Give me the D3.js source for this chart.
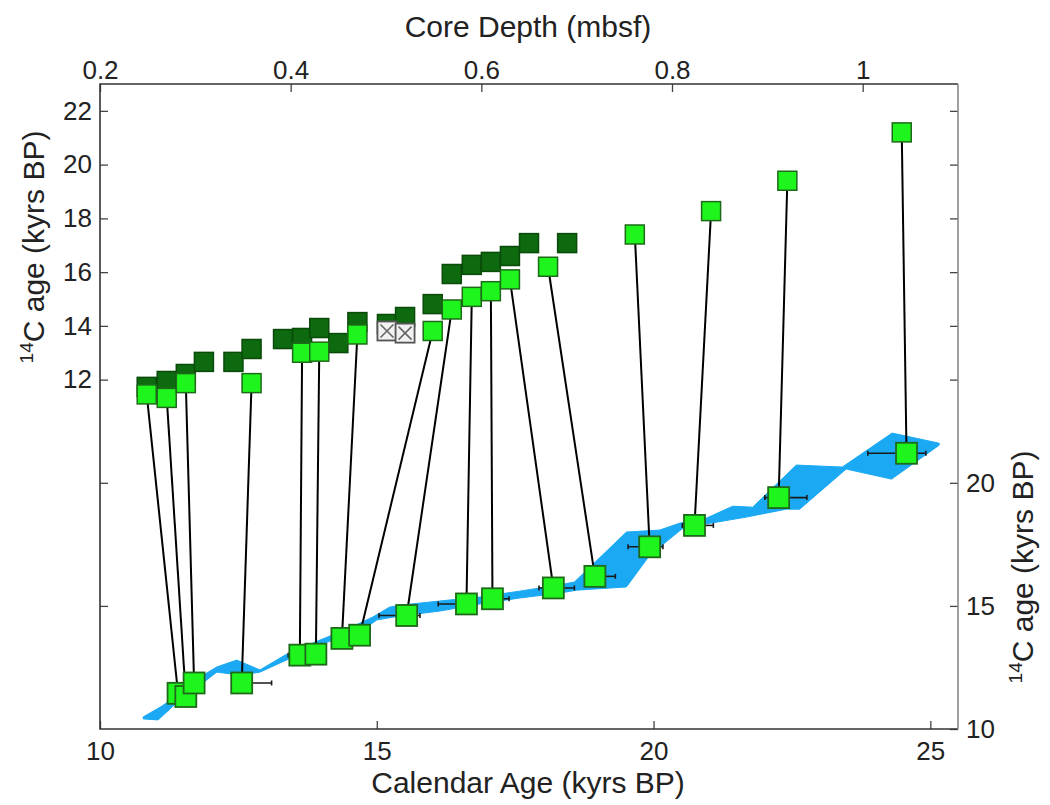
<!DOCTYPE html>
<html>
<head>
<meta charset="utf-8">
<script src="https://cdn.jsdelivr.net/npm/d3@7"></script>
<style>
  body { margin: 0; background: #fff; }
  svg text { font-family: "Liberation Sans", Arial, sans-serif; fill: #222; }
</style>
</head>
<body>
<div class="viz"></div>
<script>
// upper panel (core depth vs 14C age) : uncorrected / benthic ages
const darkDepth = [0.249, 0.270, 0.290, 0.309, 0.340, 0.359, 0.392, 0.412, 0.430, 0.450,
                   0.470, 0.501, 0.520, 0.549, 0.569, 0.590, 0.610, 0.630, 0.650, 0.690]
const darkAge   = [11.73, 11.95, 12.21, 12.66, 12.66, 13.14, 13.51, 13.55, 13.92, 13.36,
                   14.14, 14.07, 14.33, 14.81, 15.93, 16.27, 16.38, 16.60, 17.08, 17.08]

// rejected samples (crossed boxes)
const rejDepth = [0.501, 0.520]
const rejAge   = [13.81, 13.73]

// samples that are tied to the calibration curve
const sampleDepth = [0.249, 0.270, 0.290, 0.359, 0.412, 0.430, 0.470, 0.549, 0.569,
                     0.590, 0.610, 0.630, 0.670, 0.761, 0.841, 0.921, 1.041]
const sampleAge   = [11.45, 11.32, 11.87, 11.87, 13.00, 13.04, 13.68, 13.81, 14.61,
                     15.08, 15.29, 15.73, 16.20, 17.40, 18.27, 19.40, 21.20]
const calAge = [11.41, 11.55, 11.70, 12.56, 13.61, 13.90, 14.37, 14.69, 15.54,
                16.62, 17.09, 18.19, 18.94, 19.93, 20.74, 22.26, 24.57]
const calLo  = [11.35, 11.50, 11.65, 12.45, 13.40, 13.80, 14.28, 14.60, 15.04,
                16.11, 16.95, 17.93, 18.80, 19.54, 20.52, 22.01, 23.87]
const calHi  = [11.48, 11.62, 11.76, 13.10, 13.70, 14.00, 14.45, 14.80, 15.78,
                16.80, 17.39, 18.57, 19.31, 20.17, 21.08, 22.77, 24.92]

// calibration curve envelope (blue)
const bandTopCal = [10.78, 11.12, 11.53, 11.81, 12.11, 12.47, 12.89, 13.34, 13.97, 14.51,
                    14.93, 15.23, 15.42, 16.14, 16.86, 17.58, 18.30, 18.57, 19.51, 20.11,
                    20.47, 20.96, 21.43, 21.79, 22.58, 23.41, 24.31, 25.16]
const bandTopAge = [10.49, 10.93, 11.58, 12.11, 12.52, 12.80, 12.40, 13.00, 13.61, 14.10,
                    14.55, 14.95, 15.03, 15.20, 15.36, 15.60, 15.85, 15.97, 18.00, 18.08,
                    18.36, 18.57, 19.05, 19.01, 20.72, 20.64, 22.02, 21.61]
const bandBotCal = [10.78, 11.05, 11.44, 11.81, 12.11, 12.53, 12.89, 13.25, 13.97, 14.82,
                    15.00, 15.42, 16.14, 16.86, 17.58, 18.30, 18.61, 19.51, 19.93, 20.51,
                    20.92, 21.68, 22.40, 22.64, 23.48, 24.30, 25.16]
const bandBotAge = [10.41, 10.37, 11.18, 11.79, 12.31, 12.19, 12.31, 12.68, 13.41, 14.14,
                    14.43, 14.59, 14.79, 15.08, 15.32, 15.52, 15.64, 15.77, 17.06, 18.12,
                    18.32, 18.61, 18.93, 18.93, 20.56, 20.15, 21.53]

const depthTicks = [0.2, 0.4, 0.6, 0.8, 1]
const calTicks = [10, 15, 20, 25]
const leftTicks = [12, 14, 16, 18, 20, 22]
const rightTicks = [10, 15, 20]

const width = 1050
const height = 805
const mLeft = 100, mRight = 958, mTop = 84, mBottom = 729

const svg = d3.select('.viz')
    .append('svg')
    .attr('width', width)
    .attr('height', height)

const xDepth = d3.scaleLinear().domain([0.2, 1.1]).range([mLeft, mRight])
const xCal = d3.scaleLinear().domain([10, 25.5]).range([mLeft, mRight])
const yLeft = d3.scaleLinear().domain([-1, 23]).range([mBottom, mTop])
const yRight = d3.scaleLinear().domain([10, 36.2]).range([mBottom, mTop])

// blue band
const bandPts = bandTopCal.map((c, i) => [xCal(c), yRight(bandTopAge[i])])
    .concat(bandBotCal.map((c, i) => [xCal(c), yRight(bandBotAge[i])]).reverse())
svg.append('path')
    .attr('d', d3.line()(bandPts) + 'Z')
    .attr('fill', '#1ba9f4')
    .attr('stroke', '#1ba9f4')
    .attr('stroke-width', 1)

// error bars on calendar ages
const errs = svg.append('g').attr('stroke', '#1a1a1a').attr('stroke-width', 1.6)
calAge.forEach((c, i) => {
    const y = yRight(sampleAge[i])
    errs.append('line').attr('x1', xCal(calLo[i])).attr('x2', xCal(calHi[i])).attr('y1', y).attr('y2', y)
    errs.append('line').attr('x1', xCal(calLo[i])).attr('x2', xCal(calLo[i])).attr('y1', y - 2.5).attr('y2', y + 2.5)
    errs.append('line').attr('x1', xCal(calHi[i])).attr('x2', xCal(calHi[i])).attr('y1', y - 2.5).attr('y2', y + 2.5)
})

// tie lines
svg.append('g')
    .selectAll('line')
    .data(sampleAge)
    .enter()
    .append('line')
    .attr('x1', (d, i) => xDepth(sampleDepth[i]))
    .attr('y1', d => yLeft(d))
    .attr('x2', (d, i) => xCal(calAge[i]))
    .attr('y2', d => yRight(d))
    .attr('stroke', '#000')
    .attr('stroke-width', 2)

const lightFill = '#1ef51c', lightStroke = '#1f6a1a'
const darkFill = '#0e6a0e', darkStroke = '#0a4a0a'

// lower squares (calendar age)
const lowS = 21
svg.append('g')
    .selectAll('rect')
    .data(calAge)
    .enter()
    .append('rect')
    .attr('x', d => xCal(d) - lowS / 2)
    .attr('y', (d, i) => yRight(sampleAge[i]) - lowS / 2)
    .attr('width', lowS).attr('height', lowS)
    .attr('fill', lightFill).attr('stroke', lightStroke).attr('stroke-width', 1.8)

// upper dark squares
const upS = 19
svg.append('g')
    .selectAll('rect')
    .data(darkDepth)
    .enter()
    .append('rect')
    .attr('x', d => xDepth(d) - upS / 2)
    .attr('y', (d, i) => yLeft(darkAge[i]) - upS / 2)
    .attr('width', upS).attr('height', upS)
    .attr('fill', darkFill).attr('stroke', darkStroke).attr('stroke-width', 1.5)

// rejected (crossed) boxes
const rej = svg.append('g')
rejDepth.forEach((d, i) => {
    const cx = xDepth(d), cy = yLeft(rejAge[i]), h = upS / 2
    rej.append('rect').attr('x', cx - h).attr('y', cy - h).attr('width', upS).attr('height', upS)
        .attr('fill', '#f2f2f2').attr('stroke', '#555').attr('stroke-width', 1.8)
    rej.append('path').attr('d', `M${cx - h + 3},${cy - h + 3}L${cx + h - 3},${cy + h - 3}M${cx + h - 3},${cy - h + 3}L${cx - h + 3},${cy + h - 3}`)
        .attr('stroke', '#666').attr('stroke-width', 1.6)
})

// upper light squares
svg.append('g')
    .selectAll('rect')
    .data(sampleDepth)
    .enter()
    .append('rect')
    .attr('x', d => xDepth(d) - upS / 2)
    .attr('y', (d, i) => yLeft(sampleAge[i]) - upS / 2)
    .attr('width', upS).attr('height', upS)
    .attr('fill', lightFill).attr('stroke', lightStroke).attr('stroke-width', 1.5)

// axes
const styleAxis = g => {
    g.select('.domain').remove()
    g.selectAll('.tick line').attr('stroke', '#444').attr('stroke-width', 1.3)
    g.selectAll('.tick text').style('font-size', '26px').attr('fill', '#222')
}

svg.append('g').attr('transform', `translate(0,${mTop})`)
    .call(d3.axisTop(xDepth).tickValues(depthTicks).tickFormat(d3.format('')).tickSizeInner(-8).tickSizeOuter(0).tickPadding(5))
    .call(styleAxis)

svg.append('g').attr('transform', `translate(0,${mBottom})`)
    .call(d3.axisBottom(xCal).tickValues(calTicks).tickSizeInner(-8).tickSizeOuter(0).tickPadding(13))
    .call(styleAxis)

svg.append('g').attr('transform', `translate(${mLeft},0)`)
    .call(d3.axisLeft(yLeft).tickValues(leftTicks).tickSizeInner(-8).tickSizeOuter(0).tickPadding(8))
    .call(styleAxis)

svg.append('g').attr('transform', `translate(${mRight},0)`)
    .call(d3.axisRight(yRight).tickValues(rightTicks).tickSizeInner(-8).tickSizeOuter(0).tickPadding(8))
    .call(styleAxis)

// mirrored ticks without labels
svg.append('g').attr('transform', `translate(${mRight},0)`)
    .call(d3.axisRight(yLeft).tickValues(leftTicks).tickFormat('').tickSizeInner(-8).tickSizeOuter(0))
    .call(styleAxis)
svg.append('g').attr('transform', `translate(${mLeft},0)`)
    .call(d3.axisLeft(yRight).tickValues([15, 20]).tickFormat('').tickSizeInner(-8).tickSizeOuter(0))
    .call(styleAxis)

// frame
svg.append('path')
    .attr('d', `M${mRight},${mTop}H${mLeft}V${mBottom}H${mRight}`)
    .attr('fill', 'none').attr('stroke', '#333').attr('stroke-width', 1.6)
svg.append('line')
    .attr('x1', mRight).attr('x2', mRight).attr('y1', mTop).attr('y2', mBottom)
    .attr('stroke', '#888').attr('stroke-width', 1.6)

// titles
svg.append('text')
    .text('Core Depth (mbsf)')
    .attr('text-anchor', 'middle')
    .attr('x', 528).attr('y', 37)
    .style('font-size', '30px')

svg.append('text')
    .text('Calendar Age (kyrs BP)')
    .attr('text-anchor', 'middle')
    .attr('x', 528).attr('y', 793)
    .style('font-size', '30px')

const c14Title = (x, y) => {
    const t = svg.append('text')
        .attr('text-anchor', 'middle')
        .attr('transform', `translate(${x},${y}) rotate(-90)`)
        .style('font-size', '30px')
    t.append('tspan').text('14').style('font-size', '19px').attr('dy', -11)
    t.append('tspan').text('C age (kyrs BP)').attr('dy', 11)
}
c14Title(44, 247)
c14Title(1033, 567)
</script>
</body>
</html>
